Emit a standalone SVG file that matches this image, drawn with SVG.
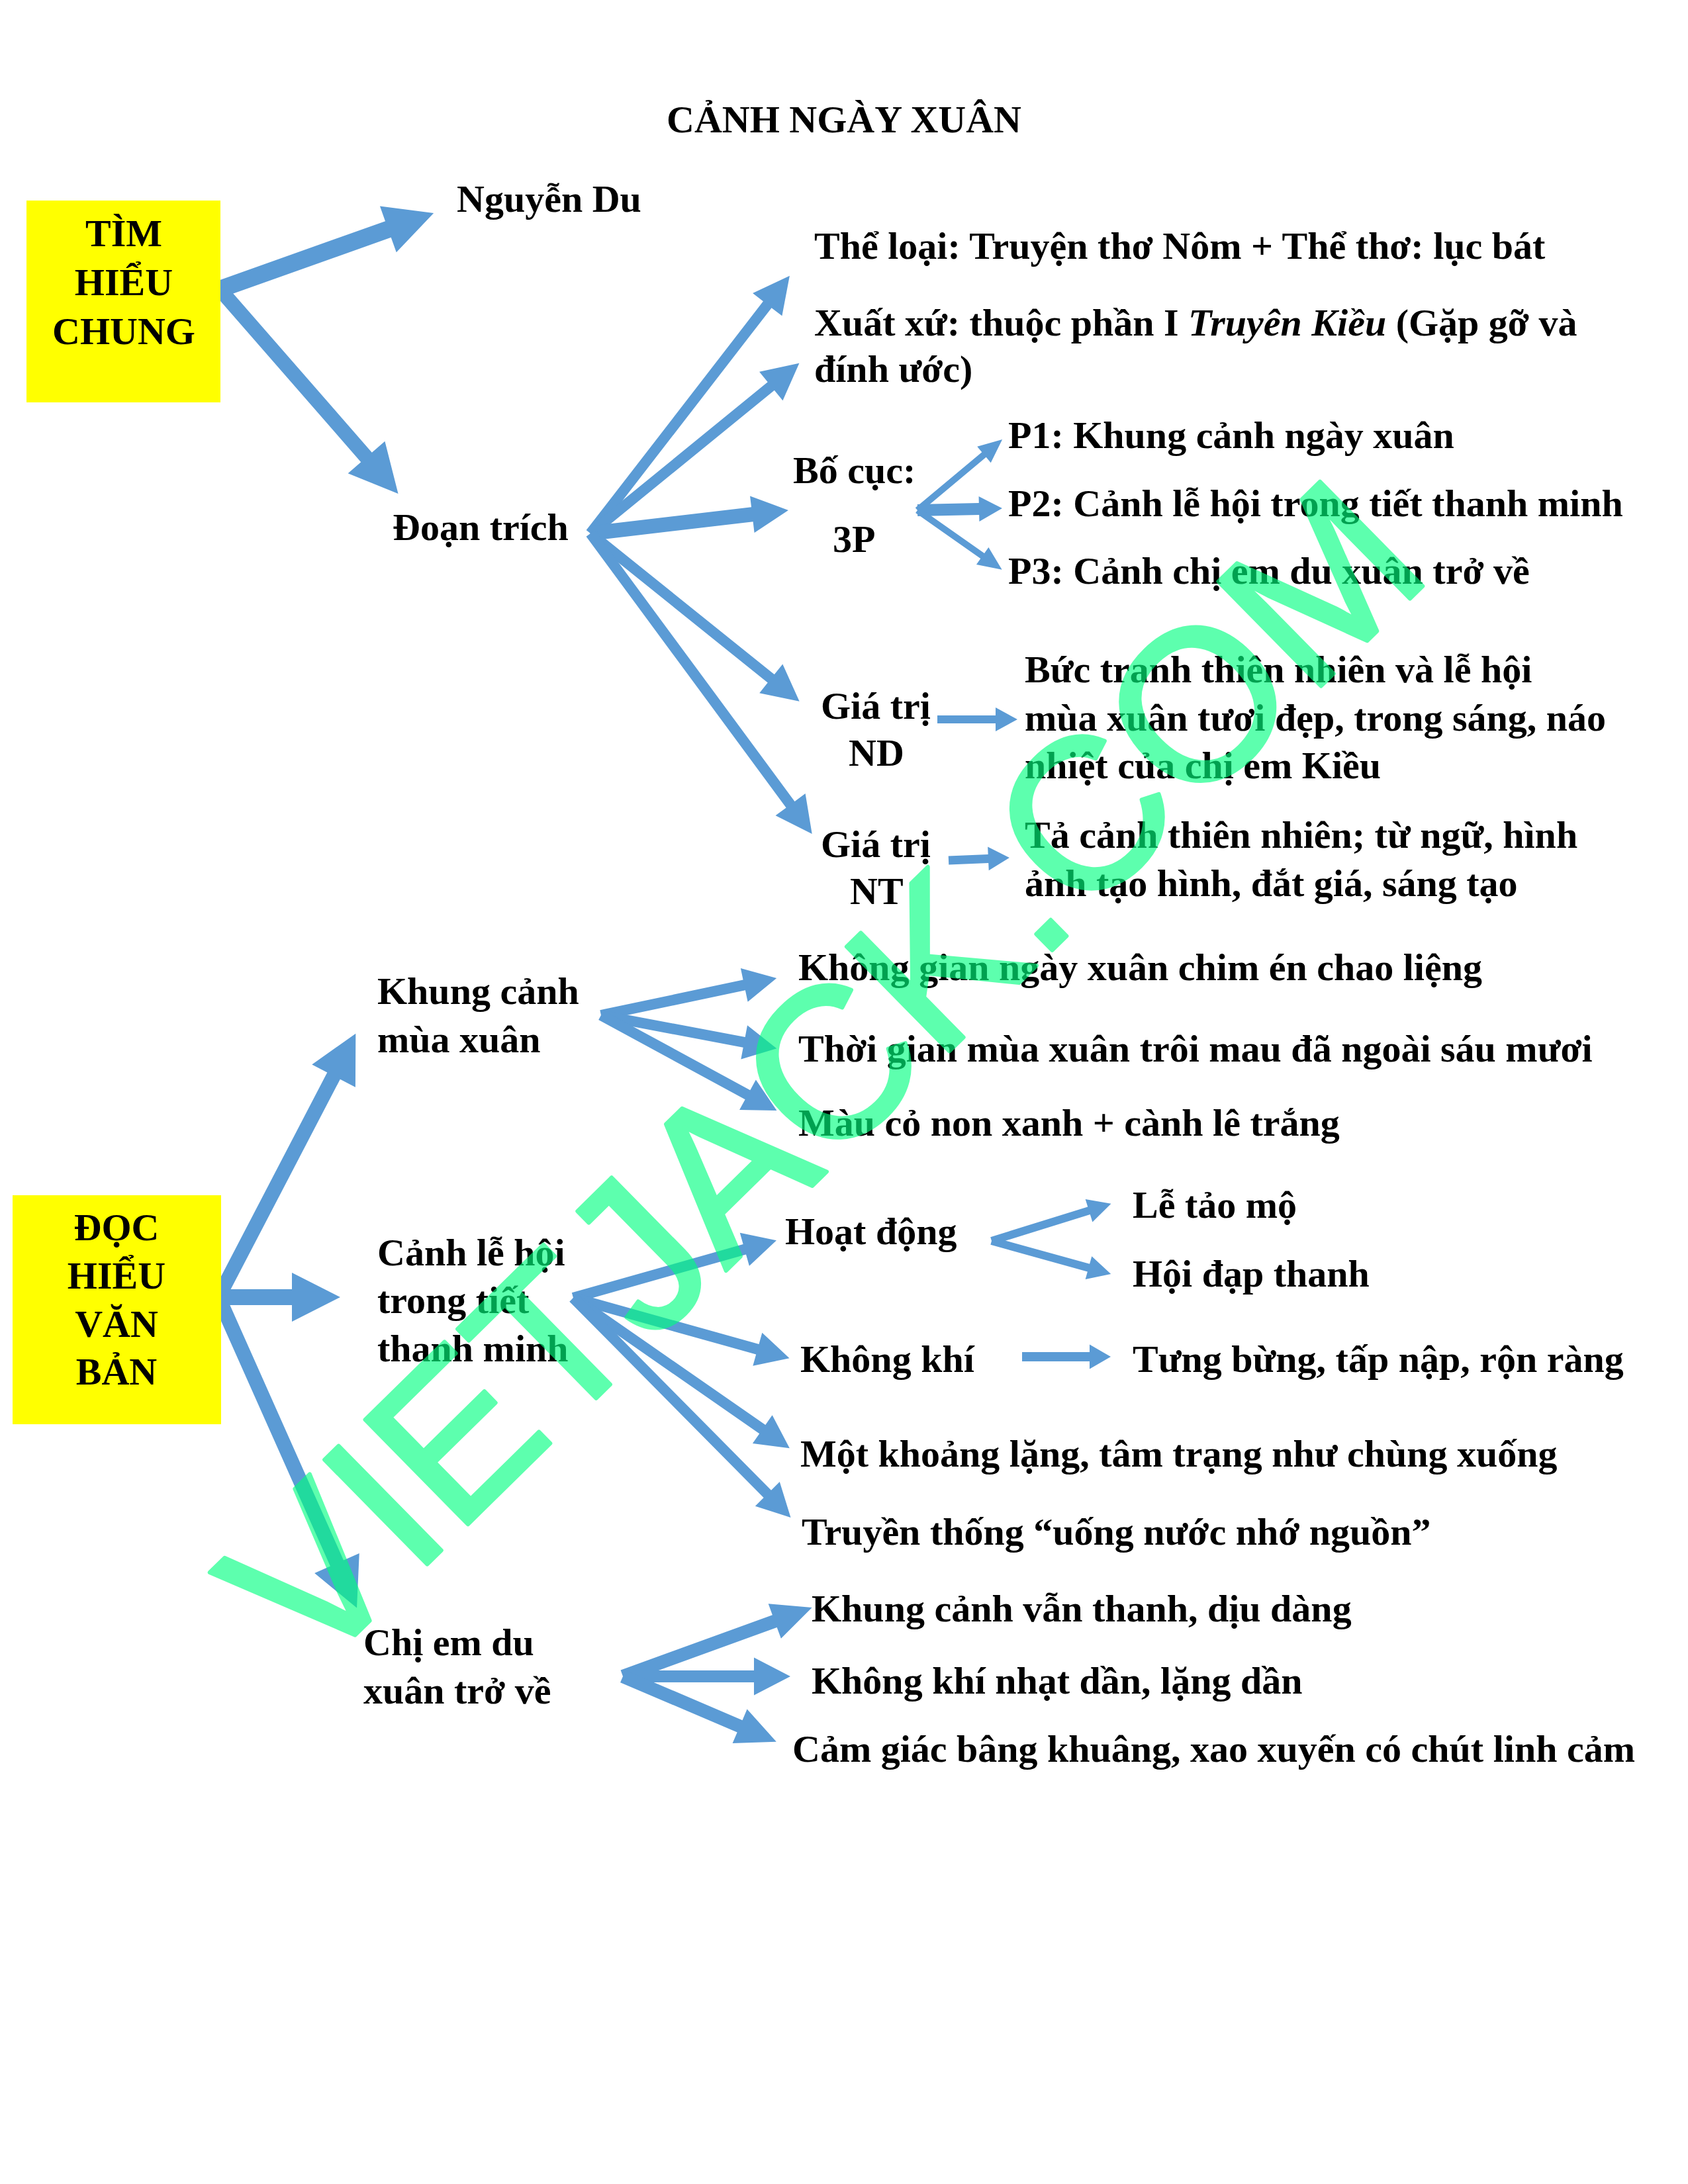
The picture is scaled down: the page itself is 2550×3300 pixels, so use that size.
<svg xmlns="http://www.w3.org/2000/svg" width="2550" height="3300" viewBox="0 0 2550 3300">
<style>
.t{font-family:"Liberation Serif","Times New Roman",serif;font-weight:bold;font-size:58px;fill:#000}
.c{text-anchor:middle}
.box{fill:#FFFF00}
.a{fill:#5B9BD5}
.wm{font-family:"Liberation Sans",Arial,sans-serif;font-size:322px;fill:#00FF7F;stroke:#00FF7F;stroke-width:6;stroke-linejoin:round;opacity:0.63}
</style>
<rect width="2550" height="3300" fill="#fff"/>
<g id="title"><text class="t c" x="1275" y="200">CẢNH NGÀY XUÂN</text></g>

<g id="connectors">
<polygon class="a" transform="translate(332 437) rotate(-19.6)" points="0,-13 270,-13 270,-37 343,0 270,37 270,13 0,13"/>
<polygon class="a" transform="translate(332 437) rotate(48.9)" points="0,-11 337,-11 337,-37 410,0 337,37 337,11 0,11"/>
<polygon class="a" transform="translate(892 806) rotate(-52.3)" points="0,-8 437,-8 437,-28 492,0 437,28 437,8 0,8"/>
<polygon class="a" transform="translate(892 806) rotate(-39.2)" points="0,-8 352,-8 352,-28 407,0 352,28 352,8 0,8"/>
<polygon class="a" transform="translate(892 806) rotate(-6.7)" points="0,-11 246,-11 246,-28 301,0 246,28 246,11 0,11"/>
<polygon class="a" transform="translate(892 806) rotate(38.8)" points="0,-8 350,-8 350,-28 405,0 350,28 350,8 0,8"/>
<polygon class="a" transform="translate(892 806) rotate(53.6)" points="0,-8 509,-8 509,-28 564,0 509,28 509,8 0,8"/>
<polygon class="a" transform="translate(1386 771) rotate(-39.9)" points="0,-5 131,-5 131,-16 167,0 131,16 131,5 0,5"/>
<polygon class="a" transform="translate(1386 771) rotate(-1.3)" points="0,-9 93,-9 93,-19 128,0 93,19 93,9 0,9"/>
<polygon class="a" transform="translate(1386 771) rotate(35.1)" points="0,-5 120,-5 120,-16 156,0 120,16 120,5 0,5"/>
<polygon class="a" transform="translate(1416 1087)" points="0,-6 88,-6 88,-18 121,0 88,18 88,6 0,6"/>
<polygon class="a" transform="translate(1433 1300) rotate(-2.5)" points="0,-6.5 60,-6.5 60,-18 92,0 60,18 60,6.5 0,6.5"/>
<polygon class="a" transform="translate(330 1960) rotate(-62.5)" points="0,-11 377,-11 377,-37 449,0 377,37 377,11 0,11"/>
<polygon class="a" transform="translate(330 1960)" points="0,-12 111,-12 111,-37 184,0 111,37 111,12 0,12"/>
<polygon class="a" transform="translate(330 1960) rotate(66)" points="0,-11 440,-11 440,-37 514,0 440,37 440,11 0,11"/>
<polygon class="a" transform="translate(908 1534) rotate(-11.9)" points="0,-8 221,-8 221,-26 271,0 221,26 221,8 0,8"/>
<polygon class="a" transform="translate(908 1534) rotate(10.7)" points="0,-8 220,-8 220,-26 270,0 220,26 220,8 0,8"/>
<polygon class="a" transform="translate(908 1534) rotate(28.5)" points="0,-8 252,-8 252,-26 302,0 252,26 252,8 0,8"/>
<polygon class="a" transform="translate(866 1961) rotate(-15.8)" points="0,-8 269,-8 269,-26 319,0 269,26 269,8 0,8"/>
<polygon class="a" transform="translate(866 1961) rotate(15.6)" points="0,-8 289,-8 289,-26 339,0 289,26 289,8 0,8"/>
<polygon class="a" transform="translate(866 1961) rotate(34.8)" points="0,-8 348,-8 348,-26 398,0 348,26 348,8 0,8"/>
<polygon class="a" transform="translate(866 1961) rotate(45.3)" points="0,-8 417,-8 417,-26 467,0 417,26 417,8 0,8"/>
<polygon class="a" transform="translate(1498 1875) rotate(-17.3)" points="0,-6 154,-6 154,-18 189,0 154,18 154,6 0,6"/>
<polygon class="a" transform="translate(1498 1875) rotate(15.5)" points="0,-6 152,-6 152,-18 187,0 152,18 152,6 0,6"/>
<polygon class="a" transform="translate(1544 2050)" points="0,-7 102,-7 102,-18.5 134,0 102,18.5 102,7 0,7"/>
<polygon class="a" transform="translate(941 2533) rotate(-20)" points="0,-10 244,-10 244,-28 304,0 244,28 244,10 0,10"/>
<polygon class="a" transform="translate(941 2533)" points="0,-9 198,-9 198,-28.5 253,0 198,28.5 198,9 0,9"/>
<polygon class="a" transform="translate(941 2533) rotate(23.1)" points="0,-10 192,-10 192,-28 252,0 192,28 192,10 0,10"/>
</g>

<g id="tim-hieu-chung">
<rect class="box" x="40" y="303" width="293" height="305"/>
<text class="t c" x="187" y="372">TÌM</text>
<text class="t c" x="187" y="446">HIỂU</text>
<text class="t c" x="187" y="520">CHUNG</text>
</g>
<g id="nguyen-du"><text class="t" x="690" y="320">Nguyễn Du</text></g>
<g id="doan-trich"><text class="t" x="593" y="816">Đoạn trích</text></g>
<g id="the-loai"><text class="t" x="1230" y="391">Thể loại: Truyện thơ Nôm + Thể thơ: lục bát</text></g>
<g id="xuat-xu">
<text class="t" x="1230" y="507">Xuất xứ: thuộc phần I <tspan font-style="italic">Truyên Kiều</tspan> (Gặp gỡ và</text>
<text class="t" x="1230" y="577">đính ước)</text>
</g>
<g id="bo-cuc">
<text class="t" x="1198" y="730">Bố cục:</text>
<text class="t" x="1258" y="834">3P</text>
</g>
<g id="p1"><text class="t" x="1523" y="677">P1: Khung cảnh ngày xuân</text></g>
<g id="p2"><text class="t" x="1523" y="780">P2: Cảnh lễ hội trong tiết thanh minh</text></g>
<g id="p3"><text class="t" x="1523" y="882">P3: Cảnh chị em du xuân trở về</text></g>
<g id="gia-tri-nd">
<text class="t" x="1240" y="1086">Giá trị</text>
<text class="t" x="1282" y="1157">ND</text>
</g>
<g id="nd-content">
<text class="t" x="1548" y="1031">Bức tranh thiên nhiên và lễ hội</text>
<text class="t" x="1548" y="1104">mùa xuân tươi đẹp, trong sáng, náo</text>
<text class="t" x="1548" y="1176">nhiệt của chị em Kiều</text>
</g>
<g id="gia-tri-nt">
<text class="t" x="1240" y="1295">Giá trị</text>
<text class="t" x="1284" y="1366">NT</text>
</g>
<g id="nt-content">
<text class="t" x="1548" y="1281">Tả cảnh thiên nhiên; từ ngữ, hình</text>
<text class="t" x="1548" y="1354">ảnh tạo hình, đắt giá, sáng tạo</text>
</g>

<g id="doc-hieu-van-ban">
<rect class="box" x="19" y="1806" width="315" height="346"/>
<text class="t c" x="176" y="1874">ĐỌC</text>
<text class="t c" x="176" y="1947">HIỂU</text>
<text class="t c" x="176" y="2020">VĂN</text>
<text class="t c" x="176" y="2092">BẢN</text>
</g>
<g id="khung-canh">
<text class="t" x="570" y="1517">Khung cảnh</text>
<text class="t" x="570" y="1590">mùa xuân</text>
</g>
<g id="khong-gian"><text class="t" x="1206" y="1481">Không gian ngày xuân chim én chao liệng</text></g>
<g id="thoi-gian"><text class="t" x="1206" y="1604">Thời gian mùa xuân trôi mau đã ngoài sáu mươi</text></g>
<g id="mau-co"><text class="t" x="1206" y="1716">Màu cỏ non xanh + cành lê trắng</text></g>
<g id="canh-le-hoi">
<text class="t" x="570" y="1912">Cảnh lễ hội</text>
<text class="t" x="570" y="1984">trong tiết</text>
<text class="t" x="570" y="2057">thanh minh</text>
</g>
<g id="hoat-dong"><text class="t" x="1186" y="1880">Hoạt động</text></g>
<g id="le-tao-mo"><text class="t" x="1711" y="1840">Lễ tảo mộ</text></g>
<g id="hoi-dap-thanh"><text class="t" x="1711" y="1944">Hội đạp thanh</text></g>
<g id="khong-khi"><text class="t" x="1209" y="2073">Không khí</text></g>
<g id="tung-bung"><text class="t" x="1711" y="2073">Tưng bừng, tấp nập, rộn ràng</text></g>
<g id="mot-khoang"><text class="t" x="1209" y="2216">Một khoảng lặng, tâm trạng như chùng xuống</text></g>
<g id="truyen-thong"><text class="t" x="1211" y="2334">Truyền thống “uống nước nhớ nguồn”</text></g>
<g id="chi-em">
<text class="t" x="549" y="2501">Chị em du</text>
<text class="t" x="549" y="2574">xuân trở về</text>
</g>
<g id="khung-canh-van"><text class="t" x="1226" y="2450">Khung cảnh vẫn thanh, dịu dàng</text></g>
<g id="khong-khi-nhat"><text class="t" x="1226" y="2559">Không khí nhạt dần, lặng dần</text></g>
<g id="cam-giac"><text class="t" x="1197" y="2662">Cảm giác bâng khuâng, xao xuyến có chút linh cảm</text></g>

<g id="watermark"><text class="wm" transform="translate(471 2535) rotate(-44.5)">VIETJACK.COM</text></g>
</svg>
